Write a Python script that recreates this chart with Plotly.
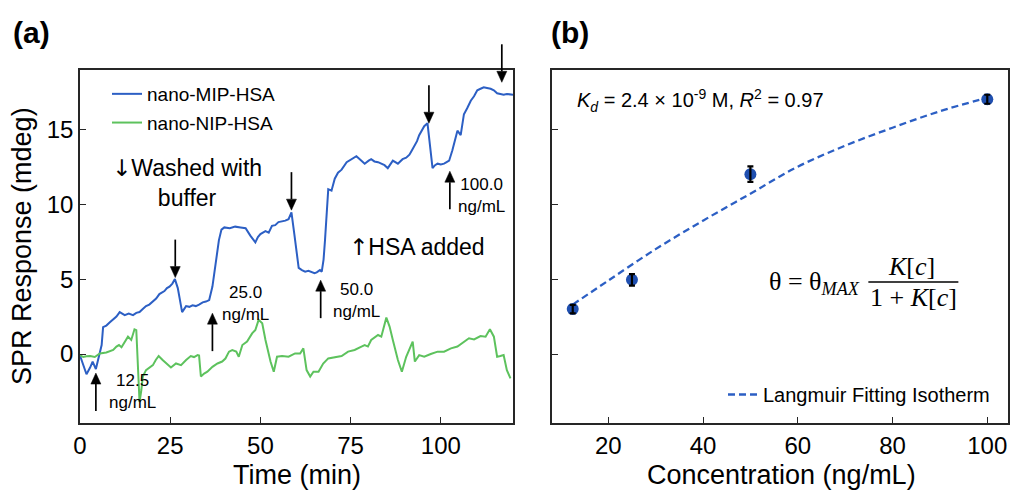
import plotly.graph_objects as go

# ---------------- data ----------------
# (a) SPR sensorgram, time (min) vs response (mdeg)
mip_time = [0, 0.9, 1.8, 2.8, 3.5, 4.4, 5.0, 5.5, 6.0, 6.4, 7.3, 8.2, 9.2, 10.1, 11.0, 12.4, 13.5, 14.7,
            15.6, 16.5, 17.4, 18.3, 19.2, 20.2, 21.1, 22.0, 23.4, 24.1, 24.8, 25.6, 26.3, 27.1, 28.3, 29.4,
            30.3, 31.2, 32.1, 33.0, 34.0, 34.9, 35.8, 36.7, 37.6, 38.5, 39.2, 40.0, 41.5, 43.0, 44.5, 45.9,
            47.2, 48.6, 49.3, 50.0, 51.4, 52.3, 53.2, 54.1, 55.0, 56.0, 56.9, 57.8, 58.6, 59.4, 60.1, 60.6,
            61.5, 62.4, 63.3, 64.2, 65.0, 65.6, 66.5, 67.0, 67.5, 67.9, 68.4, 68.8, 69.7, 70.6, 71.5, 72.5,
            73.9, 75.2, 76.6, 78.0, 78.9, 80.0, 80.7, 81.6, 82.6, 83.5, 84.4, 85.3, 86.0, 86.7, 88.1, 89.4,
            90.4, 91.3, 92.0, 92.7, 93.4, 94.0, 94.7, 95.4, 96.3, 97.0, 97.7, 98.4, 99.1, 100.0, 100.9,
            101.6, 102.3, 103.2, 103.9, 104.6, 105.5, 106.4, 107.3, 108.3, 109.2, 110.1, 111.0, 111.9,
            112.8, 113.8, 114.7, 115.6, 116.5, 117.4, 118.3, 119.3, 120.0]
mip_resp = [-0.1, -0.7, -1.35, -0.9, -0.5, -1.0, -0.4, 0.0, 0.6, 1.8, 1.9, 2.1, 2.3, 2.5, 2.8, 2.6, 2.7, 2.6,
            2.75, 2.8, 3.0, 3.2, 3.3, 3.5, 3.7, 4.0, 4.2, 4.4, 4.5, 4.7, 5.0, 4.4, 2.8, 3.2,
            3.15, 3.25, 3.2, 3.3, 3.45, 3.5, 3.6, 4.5, 6.1, 7.6, 8.3, 8.45, 8.4, 8.5, 8.45, 8.4,
            7.9, 7.45, 7.8, 8.0, 8.2, 8.1, 8.55, 8.6, 8.8, 8.85, 8.9, 9.0, 9.45, 8.0, 6.8, 5.75,
            5.6, 5.5, 5.55, 5.45, 5.4, 5.45, 5.6, 5.5, 6.3, 7.6, 10.0, 11.0, 10.9, 11.7, 12.1, 12.3,
            12.8, 13.0, 13.2, 12.9, 12.7, 12.9, 13.0, 12.85, 12.8, 12.7, 12.6, 12.4, 12.7, 12.9, 12.7, 13.0,
            13.1, 13.3, 13.6, 13.9, 14.2, 14.6, 14.9, 15.2, 15.4, 13.8, 12.4, 12.6, 12.7, 12.65, 12.7,
            12.8, 12.9, 13.6, 14.3, 14.9, 14.6, 16.0, 16.4, 16.9, 17.2, 17.6, 17.7, 17.8,
            17.75, 17.7, 17.6, 17.4, 17.35, 17.3, 17.35, 17.3, 17.3]

nip_time = [0, 0.9, 1.8, 2.8, 4.1, 5.5, 7.3, 9.2, 10.1, 10.8, 11.5, 12.4, 13.3, 14.2, 15.1, 15.6, 16.0,
            16.5, 17.0, 17.4, 18.3, 19.2, 20.2, 21.0, 21.8, 22.9, 24.3, 25.2, 26.6, 28.0, 29.4, 30.7,
            31.6, 32.6, 33.0, 33.5, 34.4, 35.3, 36.7, 38.1, 39.4, 40.3, 41.3, 42.2, 43.3, 44.0, 45.0,
            46.3, 47.7, 48.6, 49.5, 50.5, 51.4, 52.8, 53.7, 54.6, 56.0, 57.8, 59.6, 61.0, 61.9, 62.8,
            63.8, 64.7, 66.1, 67.4, 68.8, 70.6, 72.5, 74.3, 76.1, 78.0, 78.9, 79.8, 80.7, 82.6, 83.5,
            84.9, 85.8, 86.7, 88.1, 89.2, 90.4, 92.2, 92.8, 94.0, 95.4, 97.2, 99.1, 100.9, 102.8,
            104.6, 106.4, 107.8, 109.2, 111.0, 112.4, 113.6, 114.7, 115.6, 116.5, 117.4, 118.3, 119.3]
nip_resp = [-0.07, -0.2, -0.15, -0.13, -0.2, 0.04, 0.1, 0.27, 0.5, 0.6, 0.45, 0.8, 1.16, 0.94, 1.65, 1.6, -0.6,
            -3.2, -2.4, -1.5, -1.07, -0.9, -0.74, -0.4, -0.13, -0.4, -0.74, -0.9, -0.63, -0.74, -0.4, -0.13,
            -0.2, -0.07, -0.1, -1.5, -1.3, -1.18, -0.85, -0.63, -0.5, -0.3, 0.16, 0.27, 0.16, -0.18, 0.6,
            0.83, 1.38, 1.6, 2.28, 2.05, 0.94, -0.5, -1.18, -0.18, -0.13, -0.18, 0.04, 0.04, 0.38, -1.07,
            -1.5, -1.18, -1.18, -0.63, -0.29, -0.22, -0.13, 0.16, 0.27, 0.49, 0.6, 0.5, 0.94, 1.27, 1.16,
            2.43, 1.83, 0.94, -0.4, -1.18, -0.18, 0.83, -0.5, -0.07, -0.18, 0.0, 0.16, 0.16, 0.38,
            0.5, 0.83, 1.05, 0.98, 1.2, 1.16, 1.65, 1.16, -0.18, -0.13, -0.07, -1.07, -1.63]

x_ticks_a = [0, 25, 50, 75, 100]
y_ticks = [0, 5, 10, 15]

# (b) binding isotherm
conc = [12.5, 25, 50, 100]
resp = [3.0, 4.95, 12.0, 17.0]
resp_err = [0.28, 0.38, 0.52, 0.3]
fit_conc = [12.5, 20, 30, 40, 50, 60, 70, 80, 90, 100]
fit_resp = [3.3, 4.9, 7.0, 8.9, 10.7, 12.5, 13.9, 15.1, 16.2, 17.1]
x_ticks_b = [20, 40, 60, 80, 100]

# arrow annotations: (time, tip value)
wash_arrows = [(26.4, 5.1), (58.6, 9.6), (96.7, 15.4), (116.9, 18.13)]
add_arrows = [(4.4, -1.27), (36.7, 2.73), (66.7, 4.93), (102.5, 12.2)]
add_labels = [(14.6, -2.5, "12.5"), (45.9, 3.37, "25.0"), (76.5, 3.6, "50.0"), (111.3, 10.57, "100.0")]

# ---------------- figure ----------------
W, H = 1013, 493
SANS = "Liberation Sans, Arial, sans-serif"
SERIF = "Liberation Serif, Times New Roman, serif"
BLUE = "#2c5fc4"
GREEN = "#5dc25d"
FRAME = "#262626"

XA_DOM = [80 / W, 513 / W]
XA_RNG = [0, 120]
YDOM = [1 - 423 / H, 1 - 70 / H]
YRNG = [-4.6, 18.95]


def to_paper(t, v):
    px = XA_DOM[0] + (t - XA_RNG[0]) / (XA_RNG[1] - XA_RNG[0]) * (XA_DOM[1] - XA_DOM[0])
    py = YDOM[0] + (v - YRNG[0]) / (YRNG[1] - YRNG[0]) * (YDOM[1] - YDOM[0])
    return px, py


fig = go.Figure()
fig.add_trace(go.Scatter(x=mip_time, y=mip_resp, mode="lines", name="nano-MIP-HSA",
                         line=dict(color=BLUE, width=2), xaxis="x", yaxis="y", legend="legend",
                         legendgroup="a1"))
fig.add_trace(go.Scatter(x=nip_time, y=nip_resp, mode="lines", name="nano-NIP-HSA",
                         line=dict(color=GREEN, width=2), xaxis="x", yaxis="y", legend="legend",
                         legendgroup="a2"))
fig.add_trace(go.Scatter(x=fit_conc, y=fit_resp, mode="lines", name="Langmuir Fitting Isotherm",
                         line=dict(color=BLUE, width=2.3, dash="7px,4px", shape="spline"),
                         xaxis="x2", yaxis="y2", legend="legend2"))
fig.add_trace(go.Scatter(x=conc, y=resp, mode="markers", showlegend=False,
                         marker=dict(color="#1f4fb0", size=12),
                         xaxis="x2", yaxis="y2"))
# error bars drawn on top of the markers
fig.add_trace(go.Scatter(x=conc, y=resp, mode="markers", showlegend=False, hoverinfo="skip",
                         marker=dict(color="rgba(0,0,0,0)", size=1),
                         error_y=dict(type="data", array=resp_err, color="black", thickness=2.2, width=3),
                         xaxis="x2", yaxis="y2"))

axis_common = dict(showline=True, mirror=True, linecolor=FRAME, linewidth=1.5, ticks="inside",
                   ticklen=6, tickwidth=1.3, tickcolor=FRAME, showgrid=False, zeroline=False,
                   tickfont=dict(family=SANS, size=24, color="black"), automargin=False)

fig.update_layout(
    width=W, height=H, template="none",
    margin=dict(l=0, r=0, t=0, b=0),
    paper_bgcolor="white", plot_bgcolor="white",
    font=dict(family=SANS, color="black"),
    xaxis=dict(domain=XA_DOM, range=XA_RNG, tickvals=x_ticks_a, anchor="y", **axis_common),
    yaxis=dict(domain=YDOM, range=YRNG, tickvals=y_ticks, anchor="x", **axis_common),
    xaxis2=dict(domain=[552 / W, 1008 / W], range=[8.125, 104.375], tickvals=x_ticks_b, anchor="y2",
                **axis_common),
    yaxis2=dict(domain=YDOM, range=YRNG, tickvals=y_ticks, anchor="x2", showticklabels=False,
                **axis_common),
    legend=dict(x=107 / W, y=1 - 75 / H, xanchor="left", yanchor="top", bgcolor="rgba(0,0,0,0)",
                font=dict(family=SANS, size=19, color="black"), tracegroupgap=1),
    legend2=dict(x=723 / W, y=1 - 375 / H, xanchor="left", yanchor="top", bgcolor="rgba(0,0,0,0)",
                 font=dict(family=SANS, size=20, color="black")),
    showlegend=True,
)

ARROW = "<span style='font-family:DejaVu Sans'>%s</span>"
ann = []
# panel labels
ann.append(dict(text="<b>(a)</b>", x=32 / W, y=1 - 32 / H, xref="paper", yref="paper",
                showarrow=False, font=dict(size=30), xanchor="center", yanchor="middle"))
ann.append(dict(text="<b>(b)</b>", x=570 / W, y=1 - 32 / H, xref="paper", yref="paper",
                showarrow=False, font=dict(size=30), xanchor="center", yanchor="middle"))
# axis titles
ann.append(dict(text="Time (min)", x=297 / W, y=1 - 475 / H, xref="paper", yref="paper",
                showarrow=False, font=dict(size=27), xanchor="center", yanchor="middle"))
ann.append(dict(text="Concentration (ng/mL)", x=781 / W, y=1 - 475 / H, xref="paper", yref="paper",
                showarrow=False, font=dict(size=27), xanchor="center", yanchor="middle"))
ann.append(dict(text="SPR Response (mdeg)", x=22 / W, y=1 - 246 / H, xref="paper", yref="paper",
                showarrow=False, font=dict(size=27), textangle=-90, xanchor="center", yanchor="middle"))

for t, v, lab in add_labels:
    ann.append(dict(x=t, y=v, xref="x", yref="y", text=lab + "<br>ng/mL", showarrow=False,
                    font=dict(size=17), xanchor="center", yanchor="middle", align="center"))
ann.append(dict(x=29.7, y=11.43, xref="x", yref="y", text=(ARROW % "↓") + "Washed with<br>buffer",
                showarrow=False, font=dict(size=23), xanchor="center", yanchor="middle", align="center"))
ann.append(dict(x=93.5, y=7.15, xref="x", yref="y", text=(ARROW % "↑") + "HSA added", showarrow=False,
                font=dict(size=23), xanchor="center", yanchor="middle"))

# panel (b) texts
ann.append(dict(x=13.0, y=16.93, xref="x2", yref="y2", xanchor="left", yanchor="middle", showarrow=False,
                text="<i>K</i><sub><i>d</i></sub> = 2.4 × 10<sup>-9</sup> M, <i>R</i><sup>2</sup> = 0.97",
                font=dict(size=20)))
ann.append(dict(x=73.6, y=4.73, xref="x2", yref="y2", xanchor="right", yanchor="middle", showarrow=False,
                text="θ = θ<sub><i>MAX</i></sub>", font=dict(family=SERIF, size=26)))
ann.append(dict(x=84.0, y=5.85, xref="x2", yref="y2", xanchor="center", yanchor="middle", showarrow=False,
                text="<i>K</i>[<i>c</i>]", font=dict(family=SERIF, size=26)))
ann.append(dict(x=84.4, y=3.75, xref="x2", yref="y2", xanchor="center", yanchor="middle", showarrow=False,
                text="1 + <i>K</i>[<i>c</i>]", font=dict(family=SERIF, size=26)))

fig.update_layout(annotations=ann)

# fraction bar
fig.add_shape(type="line", xref="x2", yref="y2", x0=74.9, x1=93.9, y0=4.8, y1=4.8,
              line=dict(color="black", width=1.5))

# event arrows (shaft + filled head), drawn in paper space so they may leave the plot area
SHAFT, HEAD_L, HEAD_HW = 38, 11, 5


def add_arrow(t, v, direction):
    xp, yp = to_paper(t, v)
    sgn = 1 if direction == "down" else -1  # tail above tip for downward arrows
    tail = yp + sgn * SHAFT / H
    base = yp + sgn * HEAD_L / H
    fig.add_shape(type="line", xref="paper", yref="paper", x0=xp, x1=xp, y0=tail, y1=base,
                  line=dict(color="black", width=1.7))
    path = "M %f,%f L %f,%f L %f,%f Z" % (xp, yp, xp - HEAD_HW / W, base, xp + HEAD_HW / W, base)
    fig.add_shape(type="path", xref="paper", yref="paper", path=path,
                  fillcolor="black", line=dict(color="black", width=0.5))


for t, v in wash_arrows:
    add_arrow(t, v, "down")
for t, v in add_arrows:
    add_arrow(t, v, "up")

fig.write_html("out.html")
